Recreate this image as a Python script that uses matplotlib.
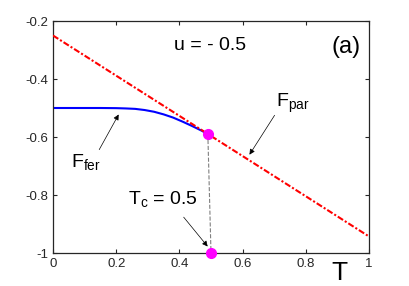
import matplotlib.pyplot as plt

plt.rcParams["font.family"] = ["Liberation Sans", "DejaVu Sans"]
plt.rcParams["mathtext.fontset"] = "custom"
plt.rcParams["mathtext.rm"] = "Liberation Sans"

# paramagnetic free energy (straight line)
t_par = [0.0, 1.0]
f_par = [-0.25, -0.943]

# ferromagnetic free energy
t_fer = [0.0, 0.1, 0.15, 0.2, 0.23, 0.26, 0.29, 0.32, 0.35, 0.38, 0.41,
         0.44, 0.47, 0.49]
f_fer = [-0.5, -0.5, -0.5, -0.5005, -0.5015, -0.503, -0.507, -0.513, -0.522,
         -0.533, -0.547, -0.562, -0.578, -0.59]

# transition points
t_dots = [0.49, 0.5]
f_dots = [-0.59, -1.0]

fig = plt.figure(figsize=(4.09, 2.86), dpi=100)
ax = fig.add_axes([53 / 409, 1 - 253 / 286, 316 / 409, 232 / 286])

ax.plot(t_par, f_par, color="red", linestyle=(0, (3, 1, 1, 1)), linewidth=1.5, zorder=3)
ax.plot(t_fer, f_fer, color="blue", linewidth=1.5, zorder=2)
ax.plot([t_dots[0], t_dots[1]], [f_dots[0], f_dots[1]], color="gray",
        linestyle="--", linewidth=0.8, zorder=1)
ax.plot(t_dots, f_dots, "o", color="magenta", markersize=7, zorder=4, clip_on=False)

arrow = dict(arrowstyle="-|>", color="black", lw=0.5, mutation_scale=8)
ax.annotate("", xy=(0.617, -0.669), xytext=(0.706, -0.517), arrowprops=arrow)
ax.annotate("", xy=(0.212, -0.514), xytext=(0.142, -0.652), arrowprops=arrow)
ax.annotate("", xy=(0.495, -0.985), xytext=(0.408, -0.869), arrowprops=arrow)

ax.text(0.497, -0.286, "u = - 0.5", fontsize=14, ha="center", va="center")
ax.text(0.975, -0.29, "(a)", fontsize=17, ha="right", va="center")
ax.text(0.705, -0.485, r"F$_{\mathrm{par}}$", fontsize=14, ha="left", va="center")
ax.text(0.057, -0.69, r"F$_{\mathrm{fer}}$", fontsize=14, ha="left", va="center")
ax.text(0.237, -0.815, r"T$_{\mathrm{c}}$ = 0.5", fontsize=14, ha="left", va="center")
ax.text(0.908, -1.07, "T", fontsize=19, ha="center", va="center")

ax.set_xlim(0, 1)
ax.set_ylim(-1, -0.2)
ax.set_xticks([0, 0.2, 0.4, 0.6, 0.8, 1])
ax.set_xticklabels(["0", "0.2", "0.4", "0.6", "0.8", "1"])
ax.set_yticks([-1, -0.8, -0.6, -0.4, -0.2])
ax.set_yticklabels(["-1", "-0.8", "-0.6", "-0.4", "-0.2"])
ax.tick_params(direction="in", top=True, right=True, labelsize=9.5, length=3,
               colors="#262626")
for s in ax.spines.values():
    s.set_linewidth(0.9)
    s.set_color("#262626")

fig.savefig("out.png", dpi=100)
